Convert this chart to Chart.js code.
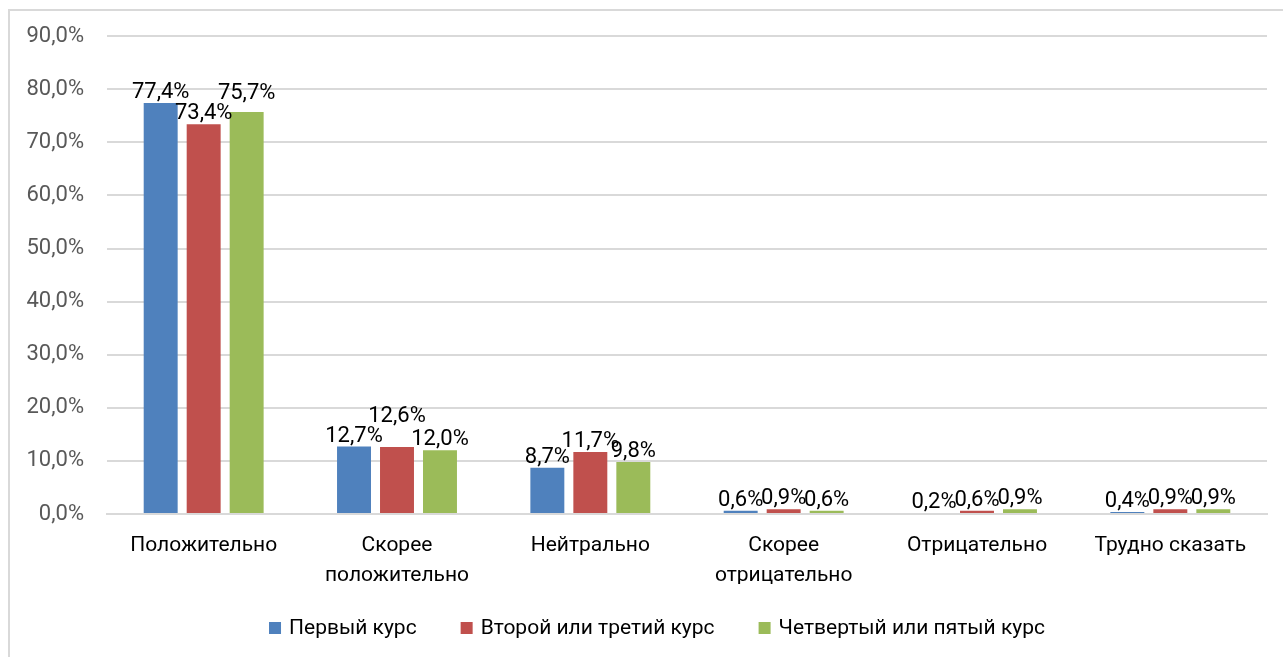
<!DOCTYPE html>
<html lang="ru">
<head>
    <meta charset="UTF-8">
    <title>Отношение по курсам</title>
    <style>
        body { margin: 0; background: white; overflow: hidden; }
        .frame { position: absolute; left: 8px; top: 9px; width: 1400px; height: 800px;
                 border-left: 2px solid #d9d9d9; border-top: 2px solid #d9d9d9; }
        #chart { position: absolute; left: 0; top: 0; }
    </style>
    <script src="https://cdn.jsdelivr.net/npm/chart.js"></script>
</head>
<body>
    <div class="frame"></div>
    <canvas id="chart" width="1283" height="657"></canvas>

    <script>
        // categories and series
        const categories = [
            'Положительно',
            ['Скорее', 'положительно'],
            'Нейтрально',
            ['Скорее', 'отрицательно'],
            'Отрицательно',
            'Трудно сказать'
        ];
        const firstYear = [77.4, 12.7, 8.7, 0.6, 0.2, 0.4];
        const secondThirdYear = [73.4, 12.6, 11.7, 0.9, 0.6, 0.9];
        const fourthFifthYear = [75.7, 12.0, 9.8, 0.6, 0.9, 0.9];

        const FONT = 'Roboto';
        const pct = v => v.toFixed(1).replace('.', ',') + '%';

        // value labels above bars, pushed up when they collide
        const barLabels = {
            id: 'barLabels',
            afterDatasetsDraw(chart) {
                const ctx = chart.ctx;
                ctx.save();
                ctx.font = '22px ' + FONT;
                ctx.fillStyle = '#000';
                ctx.textAlign = 'center';
                ctx.textBaseline = 'alphabetic';
                const placed = [];
                const n = chart.data.labels.length;
                for (let i = 0; i < n; i++) {
                    chart.data.datasets.forEach((ds, d) => {
                        const bar = chart.getDatasetMeta(d).data[i];
                        const text = pct(ds.data[i]);
                        const w = ctx.measureText(text).width;
                        let base = bar.y - 5;
                        const box = () => ({ x1: bar.x - w / 2, x2: bar.x + w / 2, y1: base - 16, y2: base + 3 });
                        let b = box();
                        for (const p of placed) {
                            const hx = Math.min(b.x2, p.x2) - Math.max(b.x1, p.x1);
                            const vy = Math.min(b.y2, p.y2) - Math.max(b.y1, p.y1);
                            if (hx > 10 && vy > 2) { base = p.y1 - 4; b = box(); }
                        }
                        placed.push(b);
                        ctx.fillText(text, bar.x, base);
                    });
                }
                ctx.restore();
            }
        };

        // Excel-like legend: square, small gap, text, wide gap between items
        const bottomLegend = {
            id: 'bottomLegend',
            afterDraw(chart) {
                const ctx = chart.ctx;
                const sets = chart.data.datasets;
                ctx.save();
                ctx.font = '21px ' + FONT;
                ctx.textBaseline = 'middle';
                ctx.textAlign = 'left';
                const widths = sets.map(ds => ctx.measureText(ds.label).width);
                const total = widths.reduce((a, w) => a + 12 + 8 + w, 0) + 44 * (sets.length - 1);
                let x = 657 - total / 2;
                const y = 628;
                sets.forEach((ds, i) => {
                    ctx.fillStyle = ds.backgroundColor;
                    ctx.fillRect(x, y - 6, 12, 12);
                    ctx.fillStyle = '#000';
                    ctx.fillText(ds.label, x + 20, y + 1);
                    x += 20 + widths[i] + 44;
                });
                ctx.restore();
            }
        };

        new Chart(document.getElementById('chart'), {
            type: 'bar',
            data: {
                labels: categories,
                datasets: [
                    { label: 'Первый курс', data: firstYear, backgroundColor: '#4f81bd' },
                    { label: 'Второй или третий курс', data: secondThirdYear, backgroundColor: '#c0504d' },
                    { label: 'Четвертый или пятый курс', data: fourthFifthYear, backgroundColor: '#9bbb59' }
                ]
            },
            options: {
                responsive: false,
                animation: false,
                categoryPercentage: 0.667,
                barPercentage: 0.79,
                layout: { padding: { top: 31, right: 16, left: 0, bottom: 73 } },
                plugins: {
                    tooltip: { enabled: false },
                    legend: { display: false }
                },
                scales: {
                    y: {
                        min: 0, max: 90,
                        ticks: {
                            stepSize: 10, padding: 23, color: '#595959',
                            font: { family: FONT, size: 22 },
                            callback: v => pct(v)
                        },
                        grid: { color: '#d9d9d9', lineWidth: 2, drawTicks: false },
                        border: { display: false },
                        afterFit: s => { s.width = 107; }
                    },
                    x: {
                        ticks: {
                            color: '#000', padding: 9, maxRotation: 0, autoSkip: false,
                            font: { family: FONT, size: 21, lineHeight: 1.43 }
                        },
                        grid: { display: false },
                        border: { color: '#d9d9d9', width: 2 },
                        afterFit: s => { s.height = 70; }
                    }
                }
            },
            plugins: [barLabels, bottomLegend]
        });
    </script>
</body>
</html>
